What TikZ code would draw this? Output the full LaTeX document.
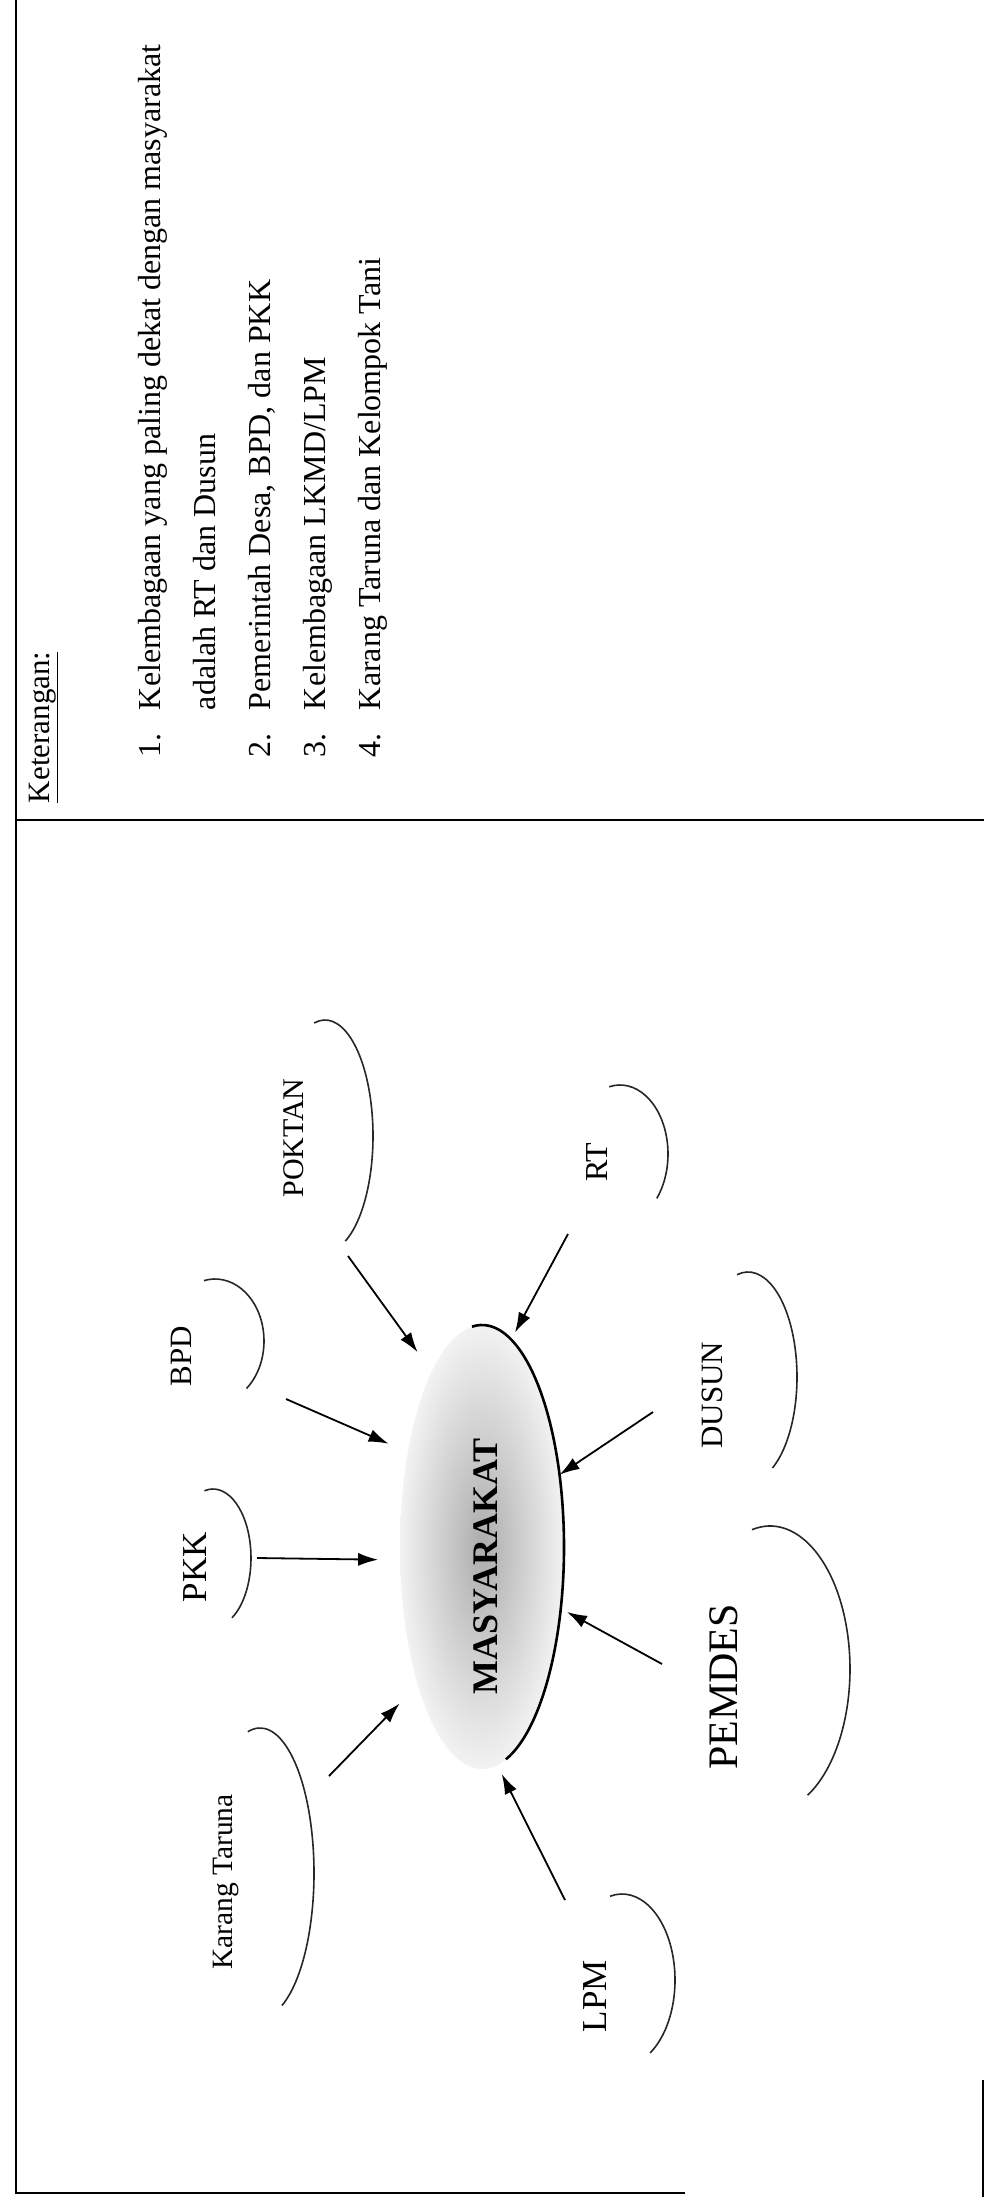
\documentclass[tikz,border=0pt]{standalone}
\usepackage{fontspec}
\setmainfont{Liberation Serif}
\usepackage{tikz}
\usetikzlibrary{arrows.meta,positioning,shapes.geometric}
\newcommand{\fs}[1]{\fontsize{#1}{#1}\selectfont}

\begin{document}
\begin{tikzpicture}[x=1pt, y=-1pt,
  every node/.style={inner sep=0pt, outer sep=0pt},
  lbl/.style={rotate=90, anchor=base},
  ket/.style={rotate=90, anchor=base west, font=\fs{32}},
  bd/.style={line width=1.8pt},
  rim/.style={line width=1.6pt, black!85},
  edge/.style={line width=2.6pt},
  core/.style={ellipse, minimum width=164pt, minimum height=444pt,
               shading=radial, inner color=gray!65, outer color=gray!10},
  arw/.style={-{Latex[length=20pt, width=13pt]}, line width=1.8pt}]
  \useasboundingbox (0,0) rectangle (984,2197);

  % page rules
  \draw[bd] (16,0) -- (16,2193) -- (685,2193);
  \draw[bd] (16,820) -- (984,820);
  \draw[bd] (983,2080) -- (983,2197);

  % keterangan
  \node[ket, font=\fs{31}] (ket) at (49,803) {\underline{Keterangan:}};
  \node[ket] (n1) at (160,757) {1.};
  \node[ket] (k1) at (160,710) {Kelembagaan yang paling dekat dengan masyarakat};
  \node[ket] (k1b) at (215,710) {adalah RT dan Dusun};
  \node[ket] (n2) at (270,757) {2.};
  \node[ket] (k2) at (270,710) {Pemerintah Desa, BPD, dan PKK};
  \node[ket] (n3) at (325,757) {3.};
  \node[ket] (k3) at (325,710) {Kelembagaan LKMD/LPM};
  \node[ket] (n4) at (380,757) {4.};
  \node[ket] (k4) at (380,710) {Karang Taruna dan Kelompok Tani};

  % masyarakat
  \node[core] (mas) at (482,1547) {};
  \draw[edge] (mas.center) ++(97:82pt and 222pt)
    arc[start angle=97, end angle=-73, x radius=82pt, y radius=222pt];
  \node[lbl, font=\bfseries\fs{36}] (mtx) at (497,1566) {MASYARAKAT};

  % lembaga
  \node[lbl, font=\fs{30}] (pok) at (303,1138) {POKTAN};
  \node[lbl, font=\fs{32}] (rt) at (607,1162) {RT};
  \node[lbl, font=\fs{31}] (bpd) at (191,1356) {BPD};
  \node[lbl, font=\fs{31}] (dus) at (722,1395) {DUSUN};
  \node[lbl, font=\fs{35}] (pkk) at (206,1567) {PKK};
  \node[lbl, font=\fs{29.5}] (kt) at (232,1882) {Karang Taruna};
  \node[lbl, font=\fs{42}] (pem) at (737,1687) {PEMDES};
  \node[lbl, font=\fs{35}] (lpm) at (606,1996) {LPM};

  \draw[rim] (325,1136) ++(103:48pt and 116pt)
    arc[start angle=103, end angle=-65, x radius=48pt, y radius=116pt];
  \draw[rim] (620,1154) ++(103:48pt and 69pt)
    arc[start angle=103, end angle=-40, x radius=48pt, y radius=69pt];
  \draw[rim] (215,1341) ++(103:49pt and 62pt)
    arc[start angle=103, end angle=-50, x radius=49pt, y radius=62pt];
  \draw[rim] (748,1377) ++(103:49pt and 105pt)
    arc[start angle=103, end angle=-60, x radius=49pt, y radius=105pt];
  \draw[rim] (213,1558) ++(103:38pt and 69pt)
    arc[start angle=103, end angle=-60, x radius=38pt, y radius=69pt];
  \draw[rim] (260,1873) ++(103:54pt and 145pt)
    arc[start angle=103, end angle=-66, x radius=54pt, y radius=145pt];
  \draw[rim] (770,1669) ++(103:80pt and 143pt)
    arc[start angle=103, end angle=-62, x radius=80pt, y radius=143pt];
  \draw[rim] (622,1980) ++(103:53pt and 86pt)
    arc[start angle=103, end angle=-58, x radius=53pt, y radius=86pt];

  % arrows into masyarakat
  \coordinate (pok-t) at (348,1256);
  \coordinate (rt-t) at (568,1234);
  \coordinate (bpd-t) at (286,1399);
  \coordinate (dus-t) at (653,1412);
  \coordinate (pkk-t) at (257,1558);
  \coordinate (kt-t) at (329,1776);
  \coordinate (pem-t) at (662,1664);
  \coordinate (lpm-t) at (565,1900);
  \draw[arw, shorten >=24pt] (pok-t) -- (mas.106.4);
  \draw[arw, shorten >=8pt] (rt-t) -- (mas.82.05);
  \draw[arw, shorten >=21pt] (bpd-t) -- (mas.128);
  \draw[arw] (dus-t) -- (mas.43.9);
  \draw[arw, shorten >=22pt] (pkk-t) -- (mas.189.25);
  \draw[arw, shorten >=26pt] (kt-t) -- (mas.245.7);
  \draw[arw, shorten >=7pt] (pem-t) -- (mas.322.5);
  \draw[arw, shorten >=10pt] (lpm-t) -- (mas.274.3);
\end{tikzpicture}
\end{document}
